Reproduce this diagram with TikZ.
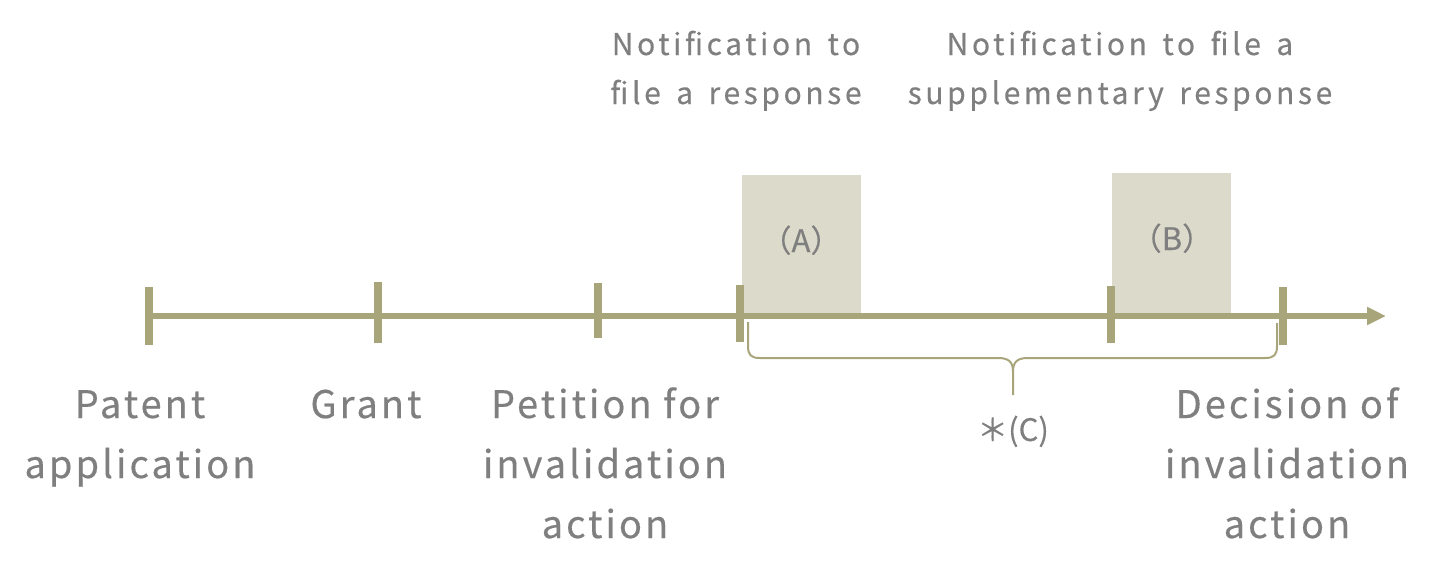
\documentclass[tikz,border=0pt]{standalone}
\usepackage{fontspec}
\setmainfont{Noto Sans CJK JP}
\newfontfamily\topfont{Noto Sans CJK JP}[LetterSpace=12, WordSpace=1.5, FakeBold=0.4]
\newfontfamily\botfont{Noto Sans CJK JP}[LetterSpace=8, FakeBold=0.4]
\newfontfamily\cjkfont{Noto Sans CJK JP}[FakeBold=0.3]
\usetikzlibrary{arrows.meta}
\definecolor{olive}{HTML}{A9A57B}
\definecolor{boxfill}{HTML}{DCDBCB}
\definecolor{txt}{HTML}{7F7F7F}
\tikzset{
  axisline/.style={draw=olive, line width=6pt},
  tickmark/.style={draw=olive, line width=8pt},
  bracepath/.style={draw=olive, line width=2pt},
  shade/.style={fill=boxfill, draw=none},
  toplabel/.style={text=txt, font=\topfont\fontsize{30}{49}\selectfont, align=center, anchor=base, inner sep=0pt},
  botlabel/.style={text=txt, font=\botfont\fontsize{38}{60}\selectfont, align=center, anchor=base, inner sep=0pt},
  boxlabel/.style={text=txt, font=\cjkfont\fontsize{31}{36}\selectfont, anchor=base, inner sep=0pt},
}
\begin{document}
\begin{tikzpicture}[x=1pt, y=-1pt]
\useasboundingbox (0,0) rectangle (1449,579);
% shaded boxes
\fill[shade] (742,175) rectangle (861,316);
\fill[shade] (1112,173) rectangle (1231,316);
% timeline
\coordinate (start) at (145,316);
\coordinate (end) at (1386,316);
\draw[axisline, -{Triangle[length=19pt, width=17pt]}] (start) -- (end);
% ticks
\draw[tickmark] (149,287) -- (149,345);
\draw[tickmark] (377.5,282) -- (377.5,343);
\draw[tickmark] (598,283) -- (598,338);
\draw[tickmark] (740,285) -- (740,342);
\draw[tickmark] (1111,286) -- (1111,343);
\draw[tickmark] (1283,287) -- (1283,345);
% brace
\coordinate (bl) at (748,322);
\coordinate (br) at (1277,323);
\coordinate (bt) at (1013,395);
\draw[bracepath] (bl) -- (748,346) .. controls (748,355) and (751,358) .. (760,358)
  -- (998,358) .. controls (1009,358) and (1013,362) .. (1013,372) -- (bt);
\draw[bracepath] (br) -- (1277,346) .. controls (1277,355) and (1274,358) .. (1265,358)
  -- (1028,358) .. controls (1017,358) and (1013,362) .. (1013,372);
% labels
\node[toplabel] (nA) at (736,104) {Notification to\\file a response};
\node[toplabel] (nB) at (1120,104) {Notification to file a\\supplementary response};
\node[boxlabel] (lA) at (801,252) {（A）};
\node[boxlabel] (lB) at (1172,250) {（B）};
\node[boxlabel] (lC) at (1013,441) {＊(C)};
\node[botlabel] (p1) at (140,478) {Patent\\application};
\node[botlabel] (p2) at (366,418) {Grant};
\node[botlabel] (p3) at (605,538) {Petition for\\invalidation\\action};
\node[botlabel] (p6) at (1287,538) {Decision of\\invalidation\\action};
\end{tikzpicture}
\end{document}
